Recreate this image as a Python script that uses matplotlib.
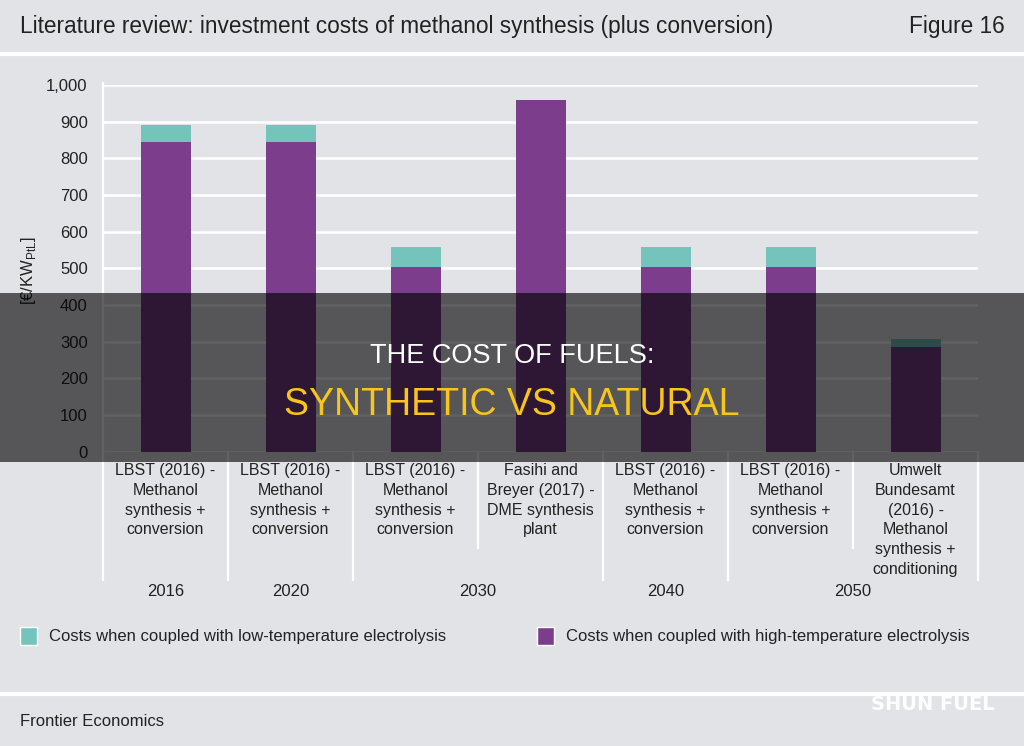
import numpy as np
import matplotlib.pyplot as plt
from matplotlib.patches import Rectangle
from matplotlib.lines import Line2D
from matplotlib.transforms import blended_transform_factory

# data
categories = [
    'LBST (2016) -\nMethanol\nsynthesis +\nconversion',
    'LBST (2016) -\nMethanol\nsynthesis +\nconversion',
    'LBST (2016) -\nMethanol\nsynthesis +\nconversion',
    'Fasihi and\nBreyer (2017) -\nDME synthesis\nplant',
    'LBST (2016) -\nMethanol\nsynthesis +\nconversion',
    'LBST (2016) -\nMethanol\nsynthesis +\nconversion',
    'Umwelt\nBundesamt\n(2016) -\nMethanol\nsynthesis +\nconditioning',
]
high_temp = [845, 845, 505, 960, 505, 505, 286]
low_temp = [890, 890, 557, np.nan, 557, 557, 306]
years = ['2016', '2020', '2030', '2040', '2050']
year_groups = [[0], [1], [2, 3], [4], [5, 6]]
yticks = list(range(0, 1001, 100))

BG = '#e2e3e7'
PURPLE = '#7b3d8c'
TEAL = '#74c4bc'
TXT = '#222222'
FONT = ['Liberation Sans', 'DejaVu Sans']

plt.rcParams['font.family'] = FONT

W, H = 1024, 746


def fx(px):
    return px / W


def fy(py):
    return 1 - py / H


fig = plt.figure(figsize=(W / 100, H / 100), dpi=100, facecolor=BG)

# header
fig.text(fx(20), fy(27), 'Literature review: investment costs of methanol synthesis (plus conversion)',
         fontsize=16.3, color=TXT, ha='left', va='center')
fig.text(fx(1005), fy(27), 'Figure 16', fontsize=16.3, color=TXT, ha='right', va='center')
fig.add_artist(Line2D([0, 1], [fy(54), fy(54)], transform=fig.transFigure, color='white', lw=3))

# chart
ax = fig.add_axes([fx(103), fy(451.7), fx(978) - fx(103), fy(85) - fy(451.7)])
ax.set_facecolor(BG)
x = np.arange(len(categories))
hi = np.array(high_temp, dtype=float)
lo = np.array(low_temp, dtype=float)
extra = np.nan_to_num(lo - hi)
ax.bar(x, hi, width=0.4, color=PURPLE, zorder=3)
ax.bar(x, extra, width=0.4, bottom=hi, color=TEAL, zorder=3)
ax.set_xlim(-0.5, len(categories) - 0.5)
ax.set_ylim(0, 1000)
ax.set_yticks(yticks)
ax.set_yticklabels([f'{v:,}' for v in yticks])
ax.set_xticks([])
ax.yaxis.grid(True, color='white', lw=1.8)
ax.set_axisbelow(True)
ax.tick_params(axis='y', length=0, pad=11, labelsize=12, labelcolor=TXT)
for s in ax.spines.values():
    s.set_visible(False)

fig.text(fx(29), fy(271), r'[€/KW$_{\mathregular{PtL}}$]', rotation=90, fontsize=12, color=TXT,
         ha='center', va='center')

tr = blended_transform_factory(ax.transData, fig.transFigure)
for i, lab in enumerate(categories):
    ax.text(i, fy(463), lab, transform=tr, ha='center', va='top', fontsize=11.5,
            color=TXT, linespacing=1.4, clip_on=False)

# separators between categories / year groups
full_edges = [-0.5] + [g[-1] + 0.5 for g in year_groups]
inner_edges = [i + 0.5 for g in year_groups for i in g[:-1]]
for e in full_edges:
    top = 83 if e == -0.5 else 452
    ax.add_line(Line2D([e, e], [fy(top), fy(580)], transform=tr, color='white', lw=1.6, clip_on=False))
for e in inner_edges:
    ax.add_line(Line2D([e, e], [fy(452), fy(548)], transform=tr, color='white', lw=1.6, clip_on=False))

for yr, g in zip(years, year_groups):
    ax.text(np.mean(g), fy(592), yr, transform=tr, ha='center', va='center', fontsize=12,
            color=TXT, clip_on=False)

# legend
legend_items = [('Costs when coupled with low-temperature electrolysis', TEAL, 20),
                ('Costs when coupled with high-temperature electrolysis', PURPLE, 537)]
for lab, col, px in legend_items:
    fig.add_artist(Rectangle((fx(px), fy(645)), fx(17), 18 / H, transform=fig.transFigure,
                             facecolor=col, edgecolor='white', lw=1))
    fig.text(fx(px + 29), fy(636), lab, fontsize=12, color=TXT, ha='left', va='center')

# footer
fig.add_artist(Line2D([0, 1], [fy(694), fy(694)], transform=fig.transFigure, color='white', lw=3))
fig.text(fx(20), fy(722), 'Frontier Economics', fontsize=12, color=TXT, ha='left', va='center')
fig.text(fx(995), fy(704), 'SHUN FUEL', fontsize=14, fontweight='bold', color='white',
         family=['DejaVu Sans'], ha='right', va='center', alpha=0.95)

# dark banner across the middle
fig.add_artist(Rectangle((0, fy(462)), 1, (462 - 293) / H, transform=fig.transFigure,
                         facecolor='black', alpha=0.62, lw=0, zorder=10))
fig.text(0.5, fy(356), 'THE COST OF FUELS:', fontsize=19.5, color='white',
         ha='center', va='center', zorder=11)
fig.text(0.5, fy(405), 'SYNTHETIC VS NATURAL', fontsize=27, color='#f7c51e',
         ha='center', va='center', zorder=11)

fig.savefig('out.png', dpi=100, facecolor=BG)
